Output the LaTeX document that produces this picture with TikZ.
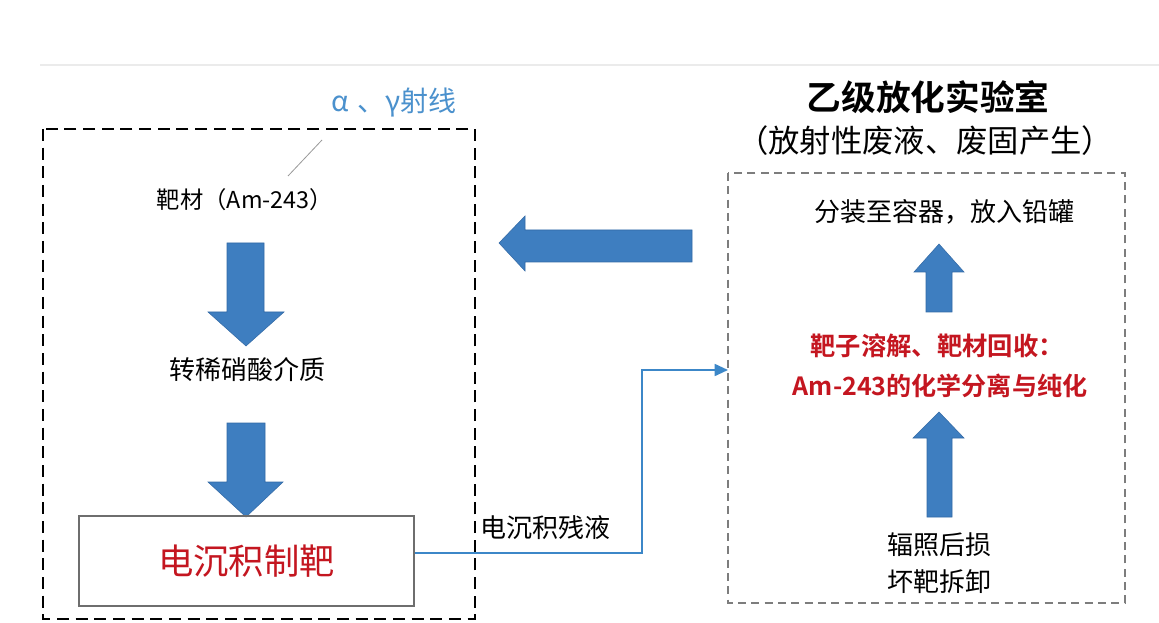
\documentclass[tikz,border=0pt]{standalone}
\usepackage{fontspec}
\setmainfont{Noto Sans CJK SC}
\newfontfamily\cjkbold{Noto Sans CJK SC Bold}
\usetikzlibrary{arrows.meta}
\definecolor{arrowblue}{RGB}{62,126,192}
\definecolor{arrowedge}{RGB}{50,105,165}
\definecolor{lineblue}{RGB}{60,135,200}
\definecolor{txtblue}{RGB}{75,145,205}
\definecolor{darkred}{RGB}{196,22,32}
\definecolor{boxgray}{RGB}{110,110,110}
\tikzset{
  blockarrow/.style={fill=arrowblue, draw=arrowedge, line width=0.4pt, line join=miter},
  leftframe/.style={draw=black, line width=2pt, dash pattern=on 9pt off 5pt},
  rightframe/.style={draw=boxgray!90, line width=1.2pt, dash pattern=on 6pt off 4pt},
  plain/.style={inner sep=0pt, text=black},
  flowline/.style={draw=lineblue, line width=1.3pt},
}
\begin{document}
\begin{tikzpicture}[x=0.75pt,y=-0.75pt]
\useasboundingbox (0,0) rectangle (1159,623);
\fill[white] (0,0) rectangle (1159,623);
% faint top line
\draw[black!8, line width=1.5pt] (40,65) -- (1159,65);

% left frame
\draw[leftframe] (43,129) rectangle (475,619);
\node[plain, text=txtblue, font=\fontsize{21}{24}\selectfont] (rays) at (394,103) {α\hspace{0.3em}、γ射线};
\coordinate (rayA) at (322,140);
\coordinate (rayB) at (288,176);
\draw[black!40, line width=0.6pt] (rayA) -- (rayB);

\node[plain, font=\fontsize{17.5}{21}\selectfont] (target) at (245,200) {靶材（Am-243）};
\draw[blockarrow] (227,243) -- (264,243) -- (264,312) -- (284,312) -- (246,346) -- (208,312) -- (227,312) -- cycle;
\node[plain, font=\fontsize{19.5}{22}\selectfont] (acid) at (247,370) {转稀硝酸介质};
\draw[blockarrow] (227,423) -- (265,423) -- (265,482) -- (283,482) -- (246,517) -- (208,482) -- (227,482) -- cycle;

\node[draw=boxgray, line width=1pt, minimum width=335*0.75pt, minimum height=90*0.75pt,
      inner sep=0pt, text=darkred, font=\fontsize{26.5}{30}\selectfont] (elec) at (246.5,561) {电沉积制靶};

% big left arrow
\draw[blockarrow] (692,230) -- (525,230) -- (525,216) -- (499,243) -- (525,271) -- (525,262) -- (692,262) -- cycle;

% right side
\node[plain, font=\cjkbold\fontsize{26}{30}\selectfont] (title) at (928,97) {乙级放化实验室};
\node[plain, font=\fontsize{23.5}{27}\selectfont] (subtitle) at (925,141) {（放射性废液、废固产生）};
\draw[rightframe] (728,173) rectangle (1125,603);
\coordinate (rightin) at (728,370);

\node[plain, font=\fontsize{19.5}{22}\selectfont] (pack) at (944,212) {分装至容器，放入铅罐};
\draw[blockarrow] (926,312) -- (952,312) -- (952,272) -- (964,272) -- (939,244) -- (914,272) -- (926,272) -- cycle;

\node[plain, text=darkred, font=\cjkbold\fontsize{19}{22}\selectfont] (dissolve) at (937,346) {靶子溶解、靶材回收：};
\node[plain, text=darkred, font=\cjkbold\fontsize{18.8}{22}\selectfont] (separate) at (940,386) {Am-243的化学分离与纯化};

\draw[blockarrow] (927,517) -- (952,517) -- (952,438) -- (964,438) -- (939,412) -- (913,438) -- (927,438) -- cycle;

\node[plain, font=\fontsize{19.5}{22}\selectfont] (irr1) at (939,545) {辐照后损};
\node[plain, font=\fontsize{19.5}{22}\selectfont] (irr2) at (939,582) {坏靶拆卸};

% flow line
\coordinate (bend1) at (642,553);
\coordinate (bend2) at (642,370);
\draw[flowline, -{Triangle[length=10pt,width=9pt]}] (elec.east |- bend1) -- (bend1) -- (bend2) -- (rightin);
\node[plain, font=\fontsize{19.5}{22}\selectfont] (residue) at (545,528) {电沉积残液};
\end{tikzpicture}
\end{document}
